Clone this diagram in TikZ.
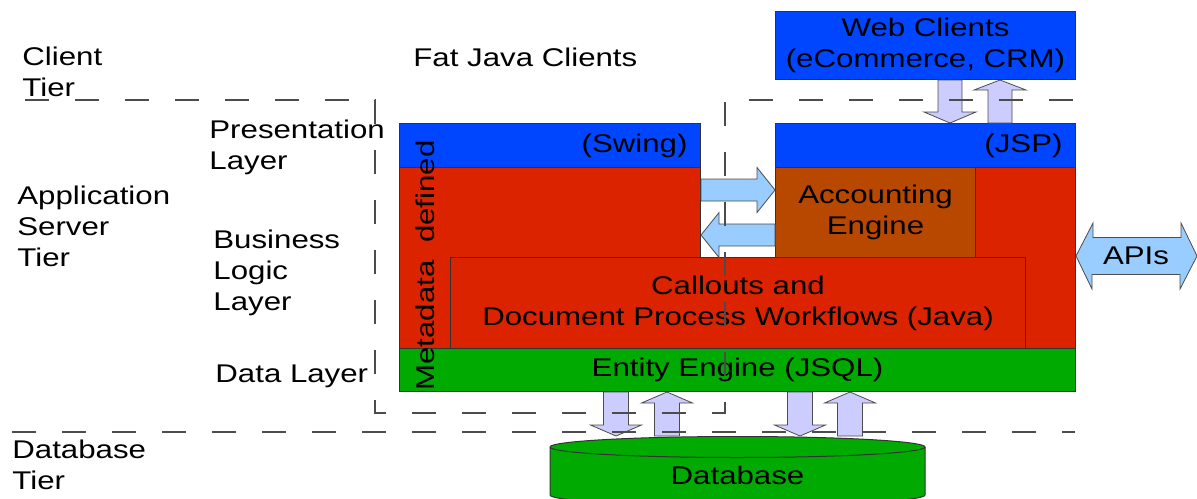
\documentclass[tikz,border=0pt]{standalone}
\usepackage{fontspec}
\setmainfont{Liberation Sans}[FakeStretch=1.22]
\usetikzlibrary{calc}
\definecolor{clientblue}{RGB}{0,69,255}
\definecolor{logicred}{RGB}{220,35,0}
\definecolor{enginebrown}{RGB}{184,71,0}
\definecolor{datagreen}{RGB}{0,170,0}
\definecolor{arrowblue}{RGB}{153,204,255}
\definecolor{arrowlilac}{RGB}{204,204,255}
\tikzset{
  layer/.style={draw=black!80,line width=0.5pt,inner sep=0pt,anchor=north west},
  lbl/.style={align=left,inner sep=0pt,anchor=west},
  tier/.style={draw=black!70,line width=0.6pt,dash pattern=on 12pt off 13pt},
  dbase/.style={draw=black!80,line width=0.5pt,fill=datagreen},
  fatblue/.style={draw=black!70,line width=0.4pt,fill=arrowblue},
  fatlilac/.style={draw=black!70,line width=0.4pt,fill=arrowlilac}
}
% block arrow: [style]{from}{to}{shaft half width}{head half width}{head length}
\newcommand{\fatarrow}[6][]{%
  \draw[#1] ($(#2)!#4!90:(#3)$) -- ($($(#3)!#6!(#2)$)!#4!90:(#3)$)
    -- ($($(#3)!#6!(#2)$)!#5!90:(#3)$) -- (#3)
    -- ($($(#3)!#6!(#2)$)!#5!-90:(#3)$) -- ($($(#3)!#6!(#2)$)!#4!-90:(#3)$)
    -- ($(#2)!#4!-90:(#3)$) -- cycle;}

\begin{document}
\begin{tikzpicture}[x=0.5pt,y=-0.5pt,font=\fontsize{12.8}{15.5}\selectfont]
\useasboundingbox (0,0) rectangle (1197,498);

% tier and layer labels
\node[lbl] (clienttier) at (22,72) {Client\\Tier};
\node[lbl] (apptier) at (17,226) {Application\\Server\\Tier};
\node[lbl] (dbtier) at (12,465) {Database\\Tier};
\node[lbl] (fatjava) at (413,57) {Fat Java Clients};
\node[lbl] (preslayer) at (209,147) {Presentation\\Layer};
\node[lbl] (bizlayer) at (213,273) {Business\\Logic\\Layer};
\node[lbl] (datalayer) at (215,376) {Data Layer};

% layers
\node[layer,fill=clientblue,minimum width=150pt,minimum height=34pt,align=center] (web) at (775,11) {Web Clients\\(eCommerce, CRM)};
\node[layer,fill=clientblue,minimum width=150.5pt,minimum height=22pt,text width=137.5pt,inner xsep=6.5pt,align=right] (swing) at (399,123) {(Swing)};
\node[layer,fill=clientblue,minimum width=150pt,minimum height=22pt,text width=137pt,inner xsep=6.5pt,align=right] (jsp) at (775,123) {(JSP)};
\node[layer,fill=logicred,minimum width=150.5pt,minimum height=90.5pt] (fatlogic) at (399,167) {};
\node[layer,fill=logicred,minimum width=150pt,minimum height=90.5pt] (weblogic) at (775,167) {};
\node[layer,fill=enginebrown,minimum width=100pt,minimum height=45pt,align=center] (acc) at (775,167) {Accounting\\Engine};
\node[layer,fill=logicred,minimum width=287.5pt,minimum height=45.5pt,align=center] (callouts) at (450,257) {Callouts and\\Document Process Workflows (Java)};
\node[layer,fill=datagreen,minimum width=338pt,minimum height=21.5pt] (entity) at (399,348) {Entity Engine (JSQL)};
\node[rotate=90,inner sep=0pt] (meta) at (425,265.5) {Metadata\ \ defined};

% database
\filldraw[dbase] (550,447) -- (550,495) arc[start angle=180,end angle=360,x radius=93.75pt,y radius=5.25pt]
  -- (925,447) arc[start angle=0,end angle=180,x radius=93.75pt,y radius=5.25pt] -- cycle;
\draw[dbase] (550,447) arc[start angle=180,end angle=360,x radius=93.75pt,y radius=5.25pt];
\node (db) at (737.5,475) {Database};
\coordinate (dbtop) at (737.5,436);

% arrows
\fatarrow[fatblue]{fatlogic.east |- 0,190}{acc.west |- 0,190}{5.5pt}{11.25pt}{9pt}
\fatarrow[fatblue]{acc.west |- 0,235}{fatlogic.east |- 0,235}{5.5pt}{11.25pt}{9pt}
\fatarrow[fatlilac]{web.south -| 950,0}{jsp.north -| 950,0}{6pt}{13pt}{5.5pt}
\fatarrow[fatlilac]{jsp.north -| 1000,0}{web.south -| 1000,0}{6pt}{13pt}{5pt}
\fatarrow[fatlilac]{entity.south -| 616,0}{dbtop -| 616,0}{6.25pt}{12.75pt}{5.5pt}
\fatarrow[fatlilac]{dbtop -| 667,0}{entity.south -| 667,0}{6.25pt}{12.75pt}{5.5pt}
\fatarrow[fatlilac]{entity.south -| 800,0}{dbtop -| 800,0}{6.25pt}{12.75pt}{5.5pt}
\fatarrow[fatlilac]{dbtop -| 850,0}{entity.south -| 850,0}{6.25pt}{12.75pt}{5.5pt}

\coordinate (apiend) at (1197,256);
\draw[fatblue] (weblogic.east |- apiend) -- ++(8.5pt,16.5pt) -- ++(0,-7.25pt) -- ++(44pt,0) -- ++(0,7.25pt)
  -- (apiend) -- ++(-8.5pt,-16.5pt) -- ++(0,7.25pt) -- ++(-44pt,0) -- ++(0,-7.25pt) -- cycle;
\node (apis) at (1136,256) {APIs};

% tier borders
\draw[tier] (25,100) -- (375,100) -- (375,413) -- (725,413) -- (725,100) -- (1075,100);
\draw[tier] (12,432) -- (1075,432);
\end{tikzpicture}
\end{document}
